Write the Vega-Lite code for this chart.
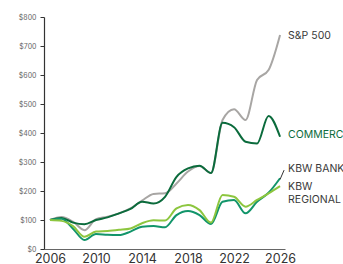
{
  "$schema": "https://vega.github.io/schema/vega-lite/v6.json",
  "width": 241,
  "height": 232,
  "autosize": {"type": "none"},
  "padding": {"left": 44, "top": 17, "right": 58, "bottom": 15},
  "background": "white",
  "config": {"view": {"stroke": null}, "font": "Inter"},
  "datasets": {
    "series": [
      {"year": 2006, "sp": 100, "cbsh": 100, "bank": 100, "reg": 100},
      {"year": 2007, "sp": 110, "cbsh": 107, "bank": 104, "reg": 97},
      {"year": 2008, "sp": 94, "cbsh": 91, "bank": 70, "reg": 79},
      {"year": 2009, "sp": 65, "cbsh": 85, "bank": 31, "reg": 42},
      {"year": 2010, "sp": 103, "cbsh": 100, "bank": 52, "reg": 60},
      {"year": 2011, "sp": 111, "cbsh": 109, "bank": 49, "reg": 62},
      {"year": 2012, "sp": 123, "cbsh": 123, "bank": 48, "reg": 66},
      {"year": 2013, "sp": 140, "cbsh": 138, "bank": 60, "reg": 71},
      {"year": 2014, "sp": 167, "cbsh": 163, "bank": 77, "reg": 89},
      {"year": 2015, "sp": 190, "cbsh": 157, "bank": 79, "reg": 99},
      {"year": 2016, "sp": 192, "cbsh": 180, "bank": 75, "reg": 98},
      {"year": 2017, "sp": 226, "cbsh": 249, "bank": 117, "reg": 140},
      {"year": 2018, "sp": 267, "cbsh": 278, "bank": 131, "reg": 152},
      {"year": 2019, "sp": 286, "cbsh": 287, "bank": 117, "reg": 134},
      {"year": 2020, "sp": 262, "cbsh": 262, "bank": 86, "reg": 91},
      {"year": 2021, "sp": 445, "cbsh": 435, "bank": 163, "reg": 186},
      {"year": 2022, "sp": 482, "cbsh": 420, "bank": 169, "reg": 180},
      {"year": 2023, "sp": 445, "cbsh": 370, "bank": 123, "reg": 146},
      {"year": 2024, "sp": 583, "cbsh": 364, "bank": 163, "reg": 169},
      {"year": 2025, "sp": 617, "cbsh": 459, "bank": 194, "reg": 192},
      {"year": 2026, "sp": 738, "cbsh": 387, "bank": 244, "reg": 217}
    ],
    "labels": [
      {"year": 2026.7, "value": 734, "text": "S&P 500", "c": "#3a3a3a"},
      {"year": 2026.7, "value": 393, "text": "COMMERCE", "c": "#0b6b3c"},
      {"year": 2026.7, "value": 276, "text": "KBW BANK", "c": "#3a3a3a"},
      {"year": 2026.7, "value": 214, "text": "KBW\nREGIONAL", "c": "#3a3a3a"}
    ],
    "leader": [
      {"year": 2026.0, "value": 240, "year2": 2026.35, "value2": 272}
    ]
  },
  "encoding": {
    "x": {
      "field": "year", "type": "quantitative",
      "scale": {"domain": [2005.48, 2026.43], "nice": false, "zero": false},
      "axis": {
        "title": null, "values": [2006, 2010, 2014, 2018, 2022, 2026], "format": "d",
        "grid": false, "ticks": false, "domainColor": "#666666", "domainWidth": 1.2,
        "labelFontSize": 12.5, "labelColor": "#333333", "labelPadding": 3,
        "labelFont": "Inter", "labelFlush": false, "labelOverlap": false
      }
    },
    "y": {
      "field": "value", "type": "quantitative",
      "scale": {"domain": [0, 800], "nice": false},
      "axis": {
        "title": null, "values": [0, 100, 200, 300, 400, 500, 600, 700, 800],
        "format": "$,d", "grid": false, "tickSize": 4, "tickColor": "#333333",
        "domainColor": "#333333", "domainWidth": 1.2, "labelFontSize": 7,
        "labelColor": "#666666", "labelPadding": 4, "labelFont": "Inter",
        "labelOverlap": false, "labelFlush": false
      }
    }
  },
  "layer": [
    {
      "data": {"name": "series"},
      "transform": [{"fold": ["sp", "cbsh", "bank", "reg"], "as": ["series", "value"]}],
      "mark": {"type": "line", "interpolate": "monotone", "strokeWidth": 2},
      "encoding": {
        "color": {
          "field": "series", "type": "nominal", "legend": null,
          "scale": {"domain": ["sp", "reg", "bank", "cbsh"], "range": ["#a8a6a4", "#8dc63f", "#12956a", "#0b6b3c"]}
        },
        "order": {"value": 0}
      }
    },
    {
      "data": {"name": "leader"},
      "mark": {"type": "rule", "color": "#333333", "strokeWidth": 1},
      "encoding": {
        "x2": {"field": "year2"},
        "y2": {"field": "value2"}
      }
    },
    {
      "data": {"name": "labels"},
      "mark": {"type": "text", "align": "left", "baseline": "middle", "fontSize": 10.5, "lineBreak": "\n", "lineHeight": 13, "font": "Inter"},
      "encoding": {
        "text": {"field": "text"},
        "color": {"field": "c", "type": "nominal", "scale": null}
      }
    }
  ]
}
